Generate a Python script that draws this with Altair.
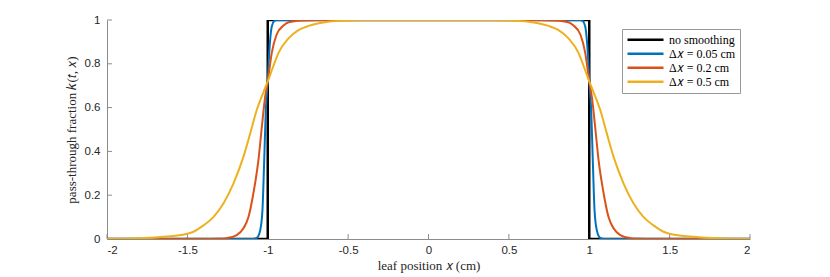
import altair as alt
import pandas as pd

# ---- data ----
series_names = ["no smoothing", "Δ𝑥 = 0.05 cm", "Δ𝑥 = 0.2 cm", "Δ𝑥 = 0.5 cm"]
series_colors = ["#000000", "#0072BD", "#D95319", "#EDB120"]

x_none = [-2.0, -1.0, -1.0, 1.0, 1.0, 2.0]
y_none = [0.0, 0.0, 1.0, 1.0, 0.0, 0.0]

x_005 = [-2.0, -1.09, -1.068, -1.047, -1.033, -1.022, -1.012, -1.0, -0.99, -0.975, -0.96,
         -0.944, 0.0, 0.944, 0.96, 0.975, 0.99, 1.0, 1.012, 1.022, 1.033, 1.047, 1.068, 1.09,
         2.0]
y_005 = [0.0, 0.0, 0.005, 0.04, 0.13, 0.36, 0.59, 0.72, 0.86, 0.97, 0.995,
         1.0, 1.0, 1.0, 0.995, 0.97, 0.86, 0.72, 0.59, 0.36, 0.13, 0.04, 0.005, 0.0,
         0.0]

x_02 = [-2.0, -1.4, -1.307, -1.255, -1.193, -1.151, -1.12, -1.089, -1.058, -1.037, -1.016,
        -1.0, -0.975, -0.944, -0.902, -0.87, -0.79, -0.7, 0.0, 0.7, 0.79, 0.87, 0.902, 0.944,
        0.975, 1.0, 1.016, 1.037, 1.058, 1.089, 1.12, 1.151, 1.193, 1.255, 1.307, 1.4, 2.0]
y_02 = [0.0, 0.0, 0.001, 0.004, 0.018, 0.049, 0.10, 0.21, 0.36, 0.51, 0.65,
        0.72, 0.85, 0.935, 0.975, 0.99, 0.998, 1.0, 1.0, 1.0, 0.998, 0.99, 0.975, 0.935,
        0.85, 0.72, 0.65, 0.51, 0.36, 0.21, 0.10, 0.049, 0.018, 0.004, 0.001, 0.0, 0.0]

x_05 = [-2.0, -1.8, -1.68, -1.5, -1.462, -1.40, -1.338, -1.275, -1.213, -1.151, -1.11, -1.068,
        -1.027, -1.0, -0.965, -0.933, -0.871, -0.809, -0.747, -0.643, -0.52, -0.4, 0.0,
        0.4, 0.52, 0.643, 0.747, 0.809, 0.871, 0.933, 0.965, 1.0, 1.027, 1.068, 1.11, 1.151,
        1.213, 1.275, 1.338, 1.40, 1.462, 1.5, 1.68, 1.8, 2.0]
y_05 = [0.0, 0.003, 0.008, 0.024, 0.033, 0.062, 0.10, 0.163, 0.254, 0.376, 0.48, 0.59,
        0.67, 0.72, 0.79, 0.85, 0.916, 0.954, 0.973, 0.99, 0.997, 1.0, 1.0,
        1.0, 0.997, 0.99, 0.973, 0.954, 0.916, 0.85, 0.79, 0.72, 0.67, 0.59, 0.48, 0.376,
        0.254, 0.163, 0.10, 0.062, 0.033, 0.024, 0.008, 0.003, 0.0]

x_ticks = [-2, -1.5, -1, -0.5, 0, 0.5, 1, 1.5, 2]
y_ticks = [0, 0.2, 0.4, 0.6, 0.8, 1]

W, H = 643, 219
AXIS_GRAY = "#8c8c8c"
TEXT_GRAY = "#262626"

def frame(name, xs, ys):
    return pd.DataFrame({"x": xs, "y": ys, "series": name, "i": list(range(len(xs)))})

xscale = alt.Scale(domain=[-2, 2], nice=False, zero=False)
yscale = alt.Scale(domain=[0, 1], nice=False, zero=False)
cscale = alt.Scale(domain=series_names, range=series_colors)

minus_fix = "replace(datum.label, '\u2212', '-')"

xaxis = alt.Axis(values=x_ticks, title="leaf position 𝑥 (cm)", grid=False, ticks=False,
                 format="~g", labelExpr=minus_fix, labelFont="Liberation Sans", labelFontSize=11.5,
                 labelColor=TEXT_GRAY, labelPadding=5, titleFont="Liberation Serif",
                 titleFontSize=13, titleFontWeight="normal", titleColor=TEXT_GRAY, titlePadding=4,
                 domainColor=AXIS_GRAY, domainWidth=1)
yaxis = alt.Axis(values=y_ticks, title="pass-through fraction 𝑘(𝑡, 𝑥)", grid=False, ticks=False,
                 format="~g", labelFont="Liberation Sans",
                 labelFontSize=11.5, labelColor=TEXT_GRAY, labelPadding=7,
                 titleFont="Liberation Serif", titleFontSize=13, titleFontWeight="normal",
                 titleColor=TEXT_GRAY, titlePadding=6, domainColor=AXIS_GRAY, domainWidth=1)

legend = alt.Legend(orient="none", legendX=515, legendY=9, title=None, symbolType="stroke",
                    symbolSize=1296, symbolStrokeWidth=2.5, labelFont="Liberation Serif",
                    labelFontSize=12, labelColor="#000000", padding=4, strokeColor="#999999",
                    fillColor="white", clipHeight=13.5, rowPadding=0, labelOffset=4)

def line_layer(df, width, interp):
    return alt.Chart(df).mark_line(strokeWidth=width, interpolate=interp, clip=True).encode(
        x=alt.X("x:Q", scale=xscale, axis=xaxis),
        y=alt.Y("y:Q", scale=yscale, axis=yaxis),
        color=alt.Color("series:N", scale=cscale, legend=legend),
        order="i:Q",
    )

black = line_layer(frame(series_names[0], x_none, y_none), 2.5, "linear")
blue = line_layer(frame(series_names[1], x_005, y_005), 2, "monotone")
red = line_layer(frame(series_names[2], x_02, y_02), 2, "monotone")
yellow = line_layer(frame(series_names[3], x_05, y_05), 2, "monotone")

xt = alt.Chart(pd.DataFrame({"t": x_ticks})).mark_rule(color=AXIS_GRAY, strokeWidth=1).encode(
    x=alt.X("t:Q", scale=xscale, axis=xaxis), y=alt.value(H), y2=alt.value(H - 5))
yt = alt.Chart(pd.DataFrame({"t": y_ticks})).mark_rule(color=AXIS_GRAY, strokeWidth=1).encode(
    y=alt.Y("t:Q", scale=yscale, axis=yaxis), x=alt.value(0), x2=alt.value(5))

chart = alt.layer(xt, yt, black, blue, red, yellow).properties(
    width=W, height=H,
    padding={"left": 57, "top": 6, "right": 20, "bottom": 4},
).configure_view(stroke=None)

chart.save("out.html", embed_options={"renderer": "svg", "actions": False})
